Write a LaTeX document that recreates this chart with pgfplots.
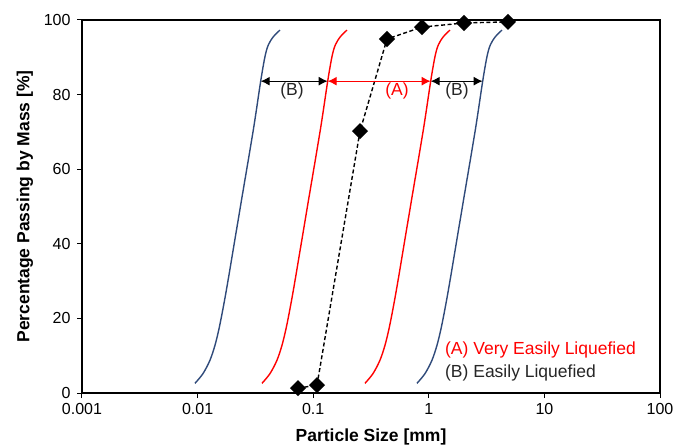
\documentclass[border=0pt]{standalone}
\usepackage{fontspec}
\setmainfont{Liberation Sans}
\usepackage{pgfplots}
\pgfplotsset{compat=1.18}
\usetikzlibrary{arrows.meta}
\definecolor{navy}{HTML}{2F4A7A}
\definecolor{lred}{HTML}{FF0000}
\begin{document}
\begin{tikzpicture}
\begin{axis}[name=a, scale only axis, width=578bp, height=373bp,
 xmode=log, xmin=0.001, xmax=100, ymin=0, ymax=100,
 xtick={0.001,0.01,0.1,1,10,100}, xticklabels={0.001,0.01,0.1,1,10,100},
 ytick={0,20,...,100},
 xminorticks=false,
 tick align=outside, tick pos=left, major tick length=5bp,
 axis line style={line width=1.2bp},
 every tick/.style={line width=1bp, black},
 tick label style={font=\fontsize{16bp}{19bp}\selectfont},
 yticklabel style={xshift=-3bp},
 xticklabel style={yshift=-2bp},
 /pgf/number format/assume math mode=true,
 xlabel={Particle Size [mm]}, ylabel={Percentage Passing by Mass [\%]},
 label style={font=\fontsize{17.5bp}{21bp}\selectfont\bfseries},
 xlabel style={at={(axis description cs:0.5,-0.118)}, anchor=center},
 ylabel style={at={(axis description cs:-0.0986,0.5)}, anchor=center},
 clip=false]
\addplot[navy, line width=1.4bp, smooth, tension=0.5] coordinates {(0.009495,2.6) (0.011135,5.2) (0.012801,8.8) (0.014142,12.8) (0.015314,17.2) (0.016585,22.6) (0.018322,30.1) (0.023501,50.1) (0.030327,70.5) (0.035143,83.6) (0.038285,90.2) (0.040886,93.3) (0.045168,95.5) (0.051616,97.3)};
\addplot[lred, line width=1.4bp, smooth, tension=0.5] coordinates {(0.03607,2.6) (0.042299,5.2) (0.048630,8.8) (0.053723,12.8) (0.058177,17.2) (0.063003,22.6) (0.069601,30.1) (0.089277,50.1) (0.115208,70.5) (0.133502,83.6) (0.145438,90.2) (0.155321,93.3) (0.171585,95.5) (0.196080,97.3)};
\addplot[lred, line width=1.4bp, smooth, tension=0.5] coordinates {(0.2806,2.6) (0.32906,5.2) (0.37831,8.8) (0.41793,12.8) (0.45258,17.2) (0.49012,22.6) (0.54145,30.1) (0.69451,50.1) (0.89624,70.5) (1.03856,83.6) (1.13141,90.2) (1.20829,93.3) (1.33481,95.5) (1.52537,97.3)};
\addplot[navy, line width=1.4bp, smooth, tension=0.5] coordinates {(0.7905,2.6) (0.92702,5.2) (1.06575,8.8) (1.17737,12.8) (1.27500,17.2) (1.38077,22.6) (1.52535,30.1) (1.95657,50.1) (2.52486,70.5) (2.92580,83.6) (3.18738,90.2) (3.40397,93.3) (3.76041,95.5) (4.29724,97.3)};
\addplot[black, line width=1.4bp, dash pattern=on 4bp off 2.5bp, mark=square*, mark size=5bp, mark options={solid, rotate=45}] coordinates {(0.0739,1.3) (0.1079,2.1) (0.254,70.2) (0.435,94.9) (0.873,98.1) (2.016,99.2) (4.84,99.5)};
\draw[black, line width=1.2bp, {Latex[length=9bp,width=9bp]}-{Latex[length=9bp,width=9bp]}] (axis cs:0.035143,83.6) -- (axis cs:0.133502,83.6);
\draw[lred, line width=1.2bp, {Latex[length=9bp,width=9bp]}-{Latex[length=9bp,width=9bp]}] (axis cs:0.133502,83.6) -- (axis cs:1.03856,83.6);
\draw[black, line width=1.2bp, {Latex[length=9bp,width=9bp]}-{Latex[length=9bp,width=9bp]}] (axis cs:1.03856,83.6) -- (axis cs:2.92580,83.6);
\node[font=\fontsize{17.5bp}{21bp}\selectfont, text=black!85, inner sep=0pt] at (axis cs:0.0656,81.0) {(B)};
\node[font=\fontsize{17.5bp}{21bp}\selectfont, text=lred, inner sep=0pt] at (axis cs:0.531,81.0) {(A)};
\node[font=\fontsize{17.5bp}{21bp}\selectfont, text=black!85, inner sep=0pt] at (axis cs:1.754,81.0) {(B)};
\node[font=\fontsize{17.5bp}{21bp}\selectfont, text=lred, inner sep=0pt, anchor=west] at (axis cs:1.38,11.5) {(A) Very Easily Liquefied};
\node[font=\fontsize{17.5bp}{21bp}\selectfont, text=black!85, inner sep=0pt, anchor=west] at (axis cs:1.38,5.5) {(B) Easily Liquefied};
\end{axis}
\pgfresetboundingbox
\path[use as bounding box] ([shift={(-82bp,-55bp)}]a.south west) rectangle ([shift={(28bp,20bp)}]a.north east);
\end{tikzpicture}
\end{document}
